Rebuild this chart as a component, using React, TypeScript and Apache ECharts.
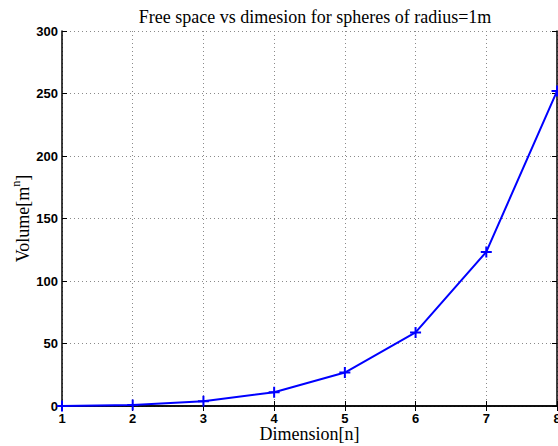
import React, { useEffect, useRef } from "react";
import * as echarts from "echarts";

// Dimension n and the free volume left in a unit cube of side 2 after removing the unit n-ball
const dimensions = [1, 2, 3, 4, 5, 6, 7, 8];
const volumes = [0, 0.86, 3.81, 11.07, 26.74, 58.83, 123.28, 251.94];
const yTicks = [0, 50, 100, 150, 200, 250, 300];

const titleText = "Free space vs dimesion for spheres of radius=1m";
const xName = "Dimension[n]";

const SERIF = "'Liberation Serif', 'Times New Roman', serif";
const SANS = "'Liberation Sans', Arial, sans-serif";

export default function App() {
  const ref = useRef<HTMLDivElement>(null);

  useEffect(() => {
    if (!ref.current) return;
    const chart = echarts.init(ref.current, null, { renderer: "svg" });

    const tickLabel = { fontFamily: SANS, fontWeight: "bold" as const, fontSize: 13, color: "#000" };
    const axisLine = { show: true, lineStyle: { color: "#000", width: 1.5 } };
    const tick = { show: true, inside: true, length: 5, lineStyle: { color: "#000", width: 1 } };
    const grid = { show: true, lineStyle: { color: "#8a8a8a", type: [1, 3] as number[], width: 1 } };

    chart.setOption({
      animation: false,
      backgroundColor: "#fff",
      title: {
        text: titleText,
        left: 310,
        textAlign: "center",
        top: 3,
        textStyle: { fontFamily: SERIF, fontWeight: "normal", fontSize: 18, color: "#000" },
      },
      grid: { left: 62, right: 1, top: 31, bottom: 40, outerBoundsMode: "none", containLabel: false },
      xAxis: [
        {
          type: "value",
          min: dimensions[0],
          max: dimensions[dimensions.length - 1],
          interval: 1,
          name: xName,
          nameLocation: "middle",
          nameGap: 20,
          nameMoveOverlap: false,
          nameTextStyle: { fontFamily: SERIF, fontSize: 18, lineHeight: 16, color: "#000", verticalAlign: "top" },
          axisLine,
          axisTick: tick,
          axisLabel: { ...tickLabel, lineHeight: 11, margin: 7 },
          splitLine: grid,
        },
        {
          type: "value",
          position: "top",
          min: dimensions[0],
          max: dimensions[dimensions.length - 1],
          interval: 1,
          axisLine,
          axisTick: tick,
          axisLabel: { show: false },
          splitLine: { show: false },
        },
      ],
      yAxis: [
        {
          type: "value",
          min: yTicks[0],
          max: yTicks[yTicks.length - 1],
          interval: yTicks[1] - yTicks[0],
          name: "{base|Volume[m}{sup|n}{base|]}",
          nameLocation: "middle",
          nameRotate: 90,
          nameGap: 30,
          nameMoveOverlap: false,
          nameTextStyle: {
            fontFamily: SERIF,
            fontSize: 18,
            color: "#000",
            rich: {
              base: { fontFamily: SERIF, fontSize: 18, color: "#000", lineHeight: 22, verticalAlign: "bottom" },
              sup: { fontFamily: SERIF, fontSize: 12, color: "#000", lineHeight: 22, verticalAlign: "top" },
            },
          },
          axisLine,
          axisTick: tick,
          axisLabel: { ...tickLabel, margin: 4 },
          splitLine: grid,
        },
        {
          type: "value",
          position: "right",
          min: yTicks[0],
          max: yTicks[yTicks.length - 1],
          interval: yTicks[1] - yTicks[0],
          axisLine,
          axisTick: tick,
          axisLabel: { show: false },
          splitLine: { show: false },
        },
      ],
      series: [
        {
          type: "line",
          xAxisIndex: 0,
          yAxisIndex: 0,
          data: dimensions.map((d, i) => [d, volumes[i]]),
          lineStyle: { color: "#0000ff", width: 2 },
          symbol: "path://M0,5L10,5M5,0L5,10",
          symbolSize: 11,
          showAllSymbol: true,
          itemStyle: { color: "none", borderColor: "#0000ff", borderWidth: 2 },
          clip: false,
          z: 5,
        },
      ],
    });

    return () => chart.dispose();
  }, []);

  return (
    <div
      ref={ref}
      style={{ position: "absolute", left: 0, top: 0, width: 558, height: 446, background: "#fff" }}
    />
  );
}
